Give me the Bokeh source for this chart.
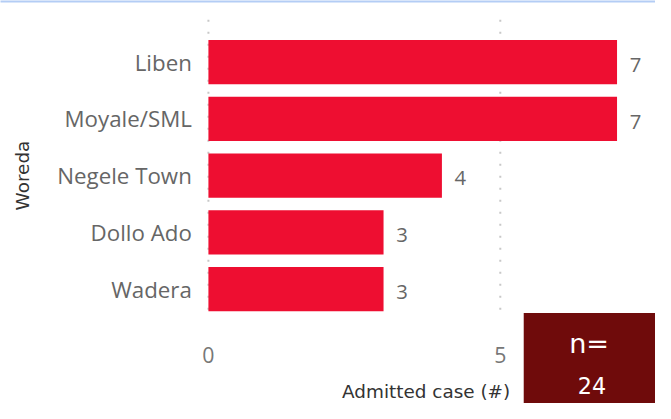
import math
from bokeh.plotting import figure
from bokeh.models import ColumnDataSource, Range1d
from bokeh.core.properties import value
from bokeh.embed import file_html
from bokeh.resources import INLINE

# ---- data ----
woredas = ["Liben", "Moyale/SML", "Negele Town", "Dollo Ado", "Wadera"]
cases = [7, 7, 4, 3, 3]
x_ticks = [0, 5]
x_title = "Admitted case (#)"
y_title = "Woreda"
n_label = "n="
n_total = 24

# ---- layout: reference geometry (671x419) mapped onto a 655x403 canvas ----
REF_W, REF_H = 671, 419
W, H = 655, 403
S = (W / REF_W + H / REF_H) / 2   # font scale
PX_X = 59.8      # ref px per case
PX_Y = 59.0      # ref px per category band
X0_PX = 213      # ref px of x = 0
FRAME_T, FRAME_B = 20, 330
Y_TOP = 4.746    # data y at FRAME_T


def dx(px):
    return (px - X0_PX) / PX_X


def dy(py):
    return Y_TOP - (py - FRAME_T) / PX_Y


def fs(px):
    return f"{px * S:.1f}px"


ypos = list(range(len(woredas) - 1, -1, -1))  # Liben at top
src = ColumnDataSource(dict(y=ypos, v=cases, lbl=[str(c) for c in cases], name=woredas))
tick_src = ColumnDataSource(dict(x=x_ticks, lbl=[str(t) for t in x_ticks]))

p = figure(width=W, height=H, output_backend="svg", toolbar_location=None,
           x_range=Range1d(dx(0), dx(REF_W)), y_range=Range1d(dy(REF_H), dy(0)),
           x_axis_type=None, y_axis_type=None,
           min_border_left=0, min_border_right=0, min_border_top=0, min_border_bottom=0)
p.outline_line_color = None
p.background_fill_color = "white"
p.border_fill_color = "white"

# light-blue rule at the very top
p.quad(left=dx(-10), right=dx(REF_W + 10), top=dy(-5), bottom=dy(2),
       fill_color="#B4CDF5", line_color=None)

# dotted vertical gridlines
p.segment(x0="x", y0=dy(FRAME_T), x1="x", y1=dy(FRAME_B), source=tick_src,
          line_color="#C8C8C8", line_width=2, line_dash="2 10")

# bars
p.hbar(y="y", left=0, right="v", height=0.78, source=src, color="#EE0E31", line_color=None)

# value labels
p.text(x="v", y="y", text="lbl", source=src, x_offset=13 * S, y_offset=3 * S,
       text_baseline="middle", text_align="left", text_color="#666666",
       text_font=value("Open Sans"), text_font_size=fs(21))

# category labels (y axis)
p.text(x=dx(196), y="y", text="name", source=src,
       text_baseline="middle", text_align="right", text_color="#666666",
       text_font=value("Open Sans"), text_font_size=fs(23))

# tick labels (x axis)
p.text(x="x", y=dy(369), text="lbl", source=tick_src,
       text_baseline="middle", text_align="center", text_color="#777777",
       text_font=value("Open Sans"), text_font_size=fs(22))

# axis titles
p.text(x=[dx(436)], y=[dy(407)], text=[x_title],
       text_baseline="alphabetic", text_align="center", text_color="#333333",
       text_font=value("DejaVu Sans"), text_font_size=fs(19))
p.text(x=[dx(23)], y=[dy(182)], text=[y_title], angle=math.pi / 2,
       text_baseline="middle", text_align="center", text_color="#333333",
       text_font=value("DejaVu Sans"), text_font_size=fs(19))

# n= box
p.quad(left=dx(536), right=dx(REF_W + 20), top=dy(325), bottom=dy(REF_H + 20),
       fill_color="#6F0B0B", line_color=None)
p.text(x=[dx(603)], y=[dy(357)], text=[n_label],
       text_baseline="alphabetic", text_align="center", text_color="white",
       text_font=value("DejaVu Sans"), text_font_size=fs(28))
p.text(x=[dx(606)], y=[dy(400)], text=[str(n_total)],
       text_baseline="alphabetic", text_align="center", text_color="white",
       text_font=value("DejaVu Sans"), text_font_size=fs(23))

open("out.html", "w").write(file_html(p, INLINE))
